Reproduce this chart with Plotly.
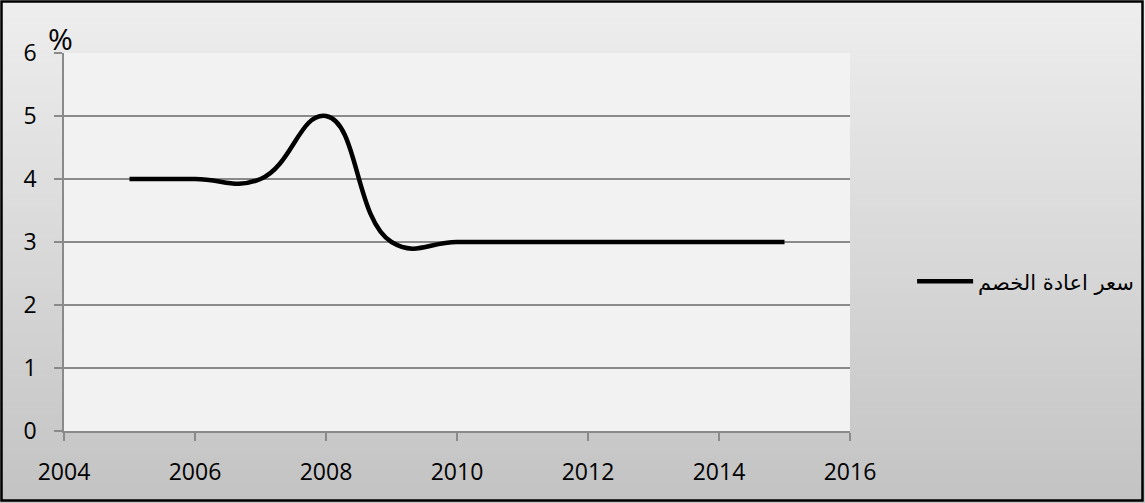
import plotly.graph_objects as go

years = [2005, 2006, 2007, 2008, 2009, 2010, 2011, 2012, 2013, 2014, 2015]
rate = [4, 4, 4, 5, 3, 3, 3, 3, 3, 3, 3]
series_name = "سعر اعادة الخصم"
x_ticks = [2004, 2006, 2008, 2010, 2012, 2014, 2016]
y_ticks = [0, 1, 2, 3, 4, 5, 6]

W, H = 1145, 503
ml, mr, mt, mb = 64, 295, 53, 72
pw, ph = W - ml - mr, H - mt - mb

fig = go.Figure()
fig.add_trace(go.Scatter(
    x=years, y=rate, mode="lines", name=series_name,
    line=dict(color="black", width=4.5, shape="spline", smoothing=1.3),
    showlegend=True,
))

# background gradient strips (paper coords covering the full figure)
shapes = []
n = 80
y_bot = -mb / ph
y_top = 1 + mt / ph
x_left = -ml / pw
x_right = 1 + mr / pw
top_c, bot_c = 238, 195
for i in range(n):
    f0 = i / n
    f1 = (i + 1) / n
    y1 = y_top - (y_top - y_bot) * f0
    y0 = y_top - (y_top - y_bot) * f1
    g = round(top_c + (bot_c - top_c) * (f0 + f1) / 2)
    shapes.append(dict(type="rect", xref="paper", yref="paper",
                       x0=x_left, x1=x_right, y0=y0 - 0.002, y1=y1 + 0.002,
                       fillcolor=f"rgb({g},{g},{g})", line=dict(width=0),
                       layer="below"))
# plot area
shapes.append(dict(type="rect", xref="paper", yref="paper", x0=0, x1=1, y0=0, y1=1,
                   fillcolor="#f2f2f2", line=dict(width=0), layer="below"))
# outer border
shapes.append(dict(type="rect", xref="paper", yref="paper",
                   x0=x_left + 1.5 / pw, x1=x_right - 2.5 / pw,
                   y0=y_bot + 2.5 / ph, y1=y_top - 1.5 / ph,
                   fillcolor="rgba(0,0,0,0)", line=dict(color="black", width=2.5),
                   layer="above"))

fig.update_layout(
    width=W, height=H,
    margin=dict(l=ml, r=mr, t=mt, b=mb, autoexpand=False),
    paper_bgcolor="rgba(0,0,0,0)",
    plot_bgcolor="rgba(0,0,0,0)",
    font=dict(family="Open Sans, Liberation Sans, DejaVu Sans", size=23, color="black"),
    shapes=shapes,
    xaxis=dict(range=[2004, 2016], tickvals=x_ticks, ticktext=[str(v) for v in x_ticks],
               showgrid=False, zeroline=False, showline=True, linecolor="#8a8a8a", linewidth=1.5,
               ticks="outside", ticklen=8, tickcolor="#8a8a8a", tickwidth=1.5,
               ticklabelstandoff=12, tickfont=dict(size=23)),
    yaxis=dict(range=[0, 6], tickvals=y_ticks, showgrid=True, gridcolor="#8a8a8a", gridwidth=1.5,
               zeroline=False, showline=True, linecolor="#8a8a8a", linewidth=1.5,
               ticks="outside", ticklen=8, tickcolor="#8a8a8a", tickwidth=1.5,
               ticklabelstandoff=13, tickfont=dict(size=23)),
    legend=dict(x=1.079, y=0.395, xanchor="left", yanchor="middle", itemwidth=56,
                bgcolor="rgba(0,0,0,0)", font=dict(size=21, family="DejaVu Sans")),
    annotations=[dict(text="%", xref="paper", yref="paper", x=0, y=1, xanchor="left",
                      yanchor="bottom", showarrow=False, font=dict(size=30), xshift=-18, yshift=-8)],
)

fig.write_html("out.html")
